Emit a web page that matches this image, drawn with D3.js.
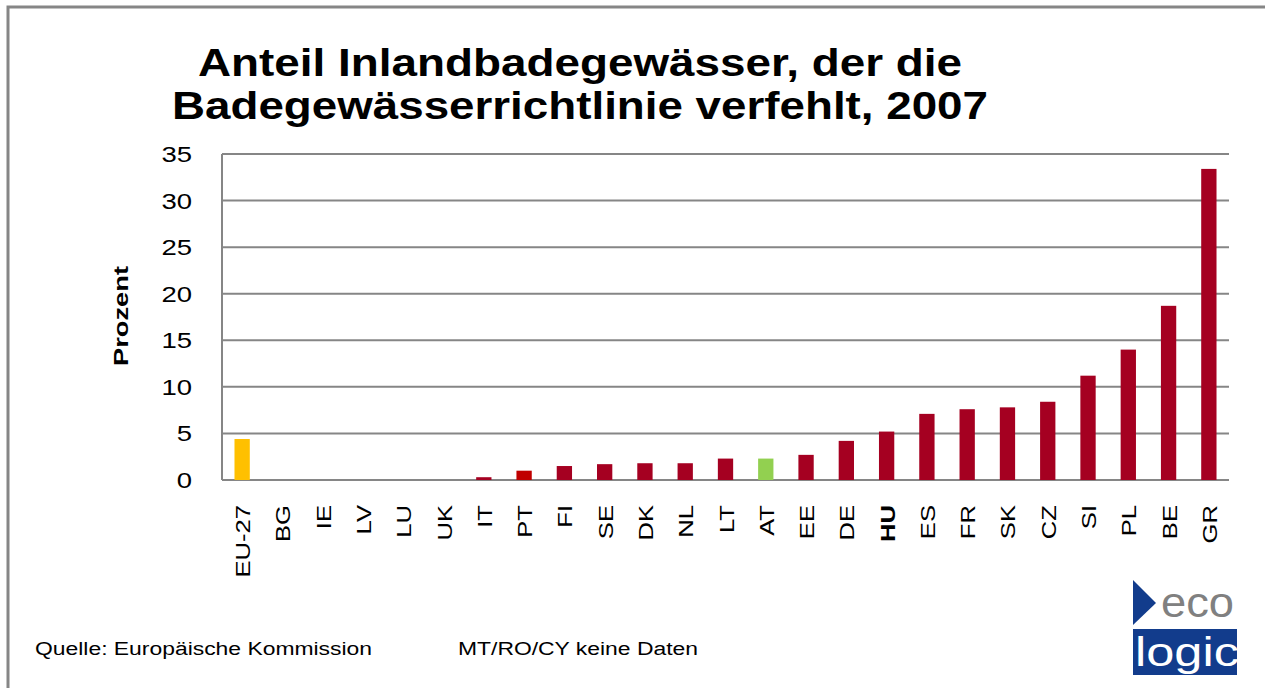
<!DOCTYPE html>
<html>
<head>
<meta charset="utf-8">
<script src="https://cdn.jsdelivr.net/npm/d3@7"></script>
<style>
  body { margin: 0; background: #fff; }
  text { font-family: Arial, "Liberation Sans", sans-serif; }
</style>
</head>
<body>
<svg id="chart" width="1265" height="688"></svg>
<script>
// data
const countries = ['EU-27','BG','IE','LV','LU','UK','IT','PT','FI','SE','DK','NL','LT','AT','EE','DE','HU','ES','FR','SK','CZ','SI','PL','BE','GR']
const values = [4.4, 0, 0, 0, 0, 0, 0.3, 1.0, 1.5, 1.7, 1.8, 1.8, 2.3, 2.3, 2.7, 4.2, 5.2, 7.1, 7.6, 7.8, 8.4, 11.2, 14.0, 18.7, 33.4]
const yTicks = [0, 5, 10, 15, 20, 25, 30, 35]
const titleLines = ['Anteil Inlandbadegewässer, der die', 'Badegewässerrichtlinie verfehlt, 2007']
const titleWidths = [764, 816]

const barColor = (c) => {
  if (c === 'EU-27') return '#ffc000'
  if (c === 'PT') return '#c00000'
  if (c === 'AT') return '#92d050'
  return '#a50021'
}

const svg = d3.select('#chart')
const plotLeft = 222, plotRight = 1229, plotTop = 154, plotBottom = 480

// stretch text horizontally like the original (picture was widened)
const stretch = (sel, k) => sel.each(function () {
  const w = this.getComputedTextLength()
  d3.select(this).attr('textLength', w * k).attr('lengthAdjust', 'spacingAndGlyphs')
})

// outer frame
svg.append('rect')
  .attr('x', 8).attr('y', 7)
  .attr('width', 1300).attr('height', 720)
  .attr('fill', 'none').attr('stroke', '#868686').attr('stroke-width', 3)

let x = d3.scaleBand().domain(countries).range([plotLeft, plotRight]).paddingInner(0.62).paddingOuter(0.31)
let y = d3.scaleLinear().domain([0, 35]).range([plotBottom, plotTop])

// title
svg.selectAll('.title')
  .data(titleLines)
  .enter()
  .append('text')
  .attr('class', 'title')
  .attr('x', 580)
  .attr('y', (d, i) => 76 + i * 43)
  .attr('text-anchor', 'middle')
  .attr('font-weight', 'bold')
  .attr('font-size', 38)
  .text(d => d)
  .attr('textLength', (d, i) => titleWidths[i])
  .attr('lengthAdjust', 'spacingAndGlyphs')

// gridlines
svg.append('g')
  .selectAll('line')
  .data(yTicks)
  .enter()
  .append('line')
  .attr('x1', plotLeft).attr('x2', plotRight)
  .attr('y1', d => y(d)).attr('y2', d => y(d))
  .attr('stroke', '#868686').attr('stroke-width', 2)

// y axis line
svg.append('line')
  .attr('x1', plotLeft).attr('x2', plotLeft)
  .attr('y1', plotTop).attr('y2', plotBottom)
  .attr('stroke', '#868686').attr('stroke-width', 2)

// y tick labels
svg.append('g')
  .selectAll('text')
  .data(yTicks)
  .enter()
  .append('text')
  .attr('x', 192)
  .attr('y', d => y(d) + 8)
  .attr('text-anchor', 'end')
  .attr('font-size', 22)
  .attr('fill', '#000')
  .text(d => d)
  .call(stretch, 1.25)

// y axis title
svg.append('text')
  .attr('transform', 'translate(128, 316) rotate(-90)')
  .attr('text-anchor', 'middle')
  .attr('font-weight', 'bold')
  .attr('font-size', 21)
  .text('Prozent')
  .call(stretch, 1.3)

// bars
svg.append('g')
  .selectAll('rect')
  .data(countries)
  .enter()
  .append('rect')
  .attr('x', d => x(d))
  .attr('width', x.bandwidth())
  .attr('y', (d, i) => y(values[i]))
  .attr('height', (d, i) => plotBottom - y(values[i]))
  .attr('fill', d => barColor(d))

// category labels
svg.append('g')
  .selectAll('text')
  .data(countries)
  .enter()
  .append('text')
  .attr('transform', d => `translate(${x(d) + x.bandwidth() / 2 + 8}, 505) rotate(-90)`)
  .attr('text-anchor', 'end')
  .attr('font-size', 21)
  .attr('font-weight', d => d === 'HU' ? 'bold' : 'normal')
  .text(d => d)
  .call(stretch, 1.22)

// footnotes
svg.append('text')
  .attr('x', 35).attr('y', 655)
  .attr('font-size', 18)
  .text('Quelle: Europäische Kommission')
  .attr('textLength', 337).attr('lengthAdjust', 'spacingAndGlyphs')

svg.append('text')
  .attr('x', 458).attr('y', 655)
  .attr('font-size', 18)
  .text('MT/RO/CY keine Daten')
  .attr('textLength', 240).attr('lengthAdjust', 'spacingAndGlyphs')

// ecologic logo
let logo = svg.append('g')
logo.append('path')
  .attr('d', 'M1133,580 L1156,603 L1133,625 Z')
  .attr('fill', '#123c8c')
logo.append('text')
  .attr('x', 1161).attr('y', 617)
  .attr('font-size', 42)
  .attr('fill', '#808080')
  .text('eco')
  .attr('textLength', 73).attr('lengthAdjust', 'spacingAndGlyphs')
logo.append('rect')
  .attr('x', 1133).attr('y', 629)
  .attr('width', 104).attr('height', 46)
  .attr('fill', '#123c8c')
logo.append('text')
  .attr('x', 1135).attr('y', 666)
  .attr('font-size', 41)
  .attr('fill', '#fff')
  .text('logic')
  .attr('textLength', 104).attr('lengthAdjust', 'spacingAndGlyphs')
</script>
</body>
</html>
